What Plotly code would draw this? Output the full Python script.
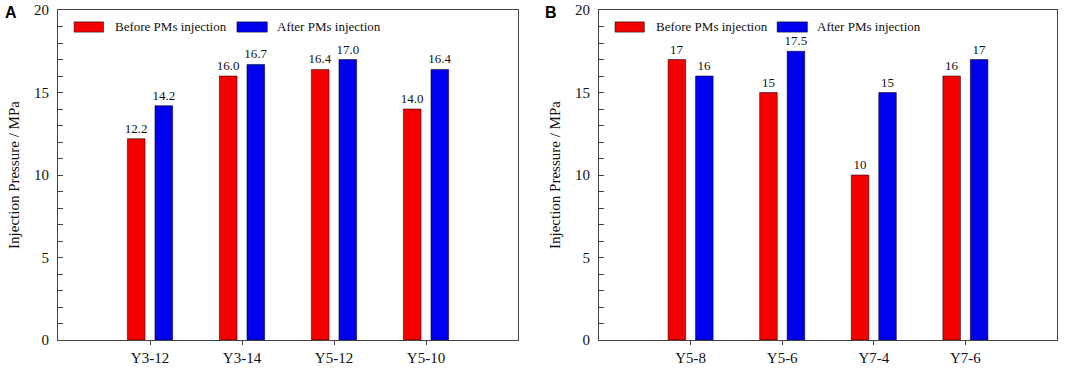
import plotly.graph_objects as go

cats_a = ["Y3-12", "Y3-14", "Y5-12", "Y5-10"]
before_a = [12.2, 16.0, 16.4, 14.0]
after_a = [14.2, 16.7, 17.0, 16.4]
before_a_txt = ["12.2", "16.0", "16.4", "14.0"]
after_a_txt = ["14.2", "16.7", "17.0", "16.4"]

cats_b = ["Y5-8", "Y5-6", "Y7-4", "Y7-6"]
before_b = [17, 15, 10, 16]
after_b = [16, 17.5, 15, 17]
before_b_txt = ["17", "15", "10", "16"]
after_b_txt = ["16", "17.5", "15", "17"]

series_names = ["Before PMs injection", "After PMs injection"]

RED = "#f50000"
BLUE = "#0000f0"
EDGE = "rgba(0,0,0,0.65)"
FONT = "Liberation Serif"
TXT = "#111"

fig = go.Figure()
def add(cats, vals, txt, name, color, xa, ya):
    fig.add_trace(go.Bar(
        x=cats, y=vals, text=txt, textposition="outside", name=name,
        marker=dict(color=color, line=dict(color=EDGE, width=0.8)),
        textfont=dict(family=FONT, size=13, color=TXT), constraintext="none",
        cliponaxis=False, xaxis=xa, yaxis=ya, showlegend=False))

add(cats_a, before_a, before_a_txt, series_names[0], RED, "x", "y")
add(cats_a, after_a, after_a_txt, series_names[1], BLUE, "x", "y")
add(cats_b, before_b, before_b_txt, series_names[0], RED, "x2", "y2")
add(cats_b, after_b, after_b_txt, series_names[1], BLUE, "x2", "y2")

W, H = 1084, 371
def xaxis(dom, anchor):
    return dict(domain=dom, anchor=anchor, range=[-1, 4], showline=True, linecolor="#444",
                linewidth=1, mirror=True, ticks="outside", ticklen=4, tickcolor="#444",
                tickfont=dict(family=FONT, size=15, color=TXT), showgrid=False)
def yaxis(anchor):
    return dict(domain=[0, 1], anchor=anchor, range=[0, 20], dtick=5, showline=True,
                linecolor="#444", linewidth=1, mirror=True, ticks="inside", ticklen=5,
                tickcolor="#444", showgrid=False, zeroline=False, ticklabelstandoff=5,
                minor=dict(dtick=1, ticks="inside", ticklen=5, tickcolor="#444", tickwidth=1),
                tickfont=dict(family=FONT, size=15, color=TXT),
                title=dict(text="Injection Pressure / MPa", font=dict(family=FONT, size=15, color=TXT),
                           standoff=10))

shapes = []
annotations = []
for xa, ya in (("x", "y"), ("x2", "y2")):
    for (x0, x1, tx), color, name in zip(((0.035, 0.099, 0.120), (0.389, 0.455, 0.472)),
                                          (RED, BLUE), series_names):
        shapes.append(dict(type="rect", xref=f"{xa} domain", yref=f"{ya} domain",
                           x0=x0, x1=x1, y0=0.933, y1=0.964, fillcolor=color,
                           line=dict(color=EDGE, width=0.8)))
        annotations.append(dict(text=name, xref=f"{xa} domain", yref=f"{ya} domain",
                                x=tx, y=0.9485, xanchor="left", yanchor="middle", showarrow=False,
                                font=dict(family=FONT, size=13, color=TXT)))

annotations += [
    dict(text="<b>A</b>", x=3 / W, y=1.0, xref="paper", yref="paper", xanchor="left", yanchor="top",
         showarrow=False, font=dict(family="Liberation Sans", size=16, color="black"), yshift=8),
    dict(text="<b>B</b>", x=543 / W, y=1.0, xref="paper", yref="paper", xanchor="left", yanchor="top",
         showarrow=False, font=dict(family="Liberation Sans", size=16, color="black"), yshift=8),
]

fig.update_layout(
    width=W, height=H, paper_bgcolor="white", plot_bgcolor="white",
    margin=dict(l=0, r=0, t=10, b=31),
    barmode="group", bargap=0.4, bargroupgap=0.36, showlegend=False,
    xaxis=xaxis([58 / W, 518 / W], "y"),
    yaxis=yaxis("x"),
    xaxis2=xaxis([599 / W, 1057 / W], "y2"),
    yaxis2=yaxis("x2"),
    shapes=shapes, annotations=annotations,
)
fig.write_html("out.html", config={"displayModeBar": False},
               post_script="document.body.style.margin='0';")
